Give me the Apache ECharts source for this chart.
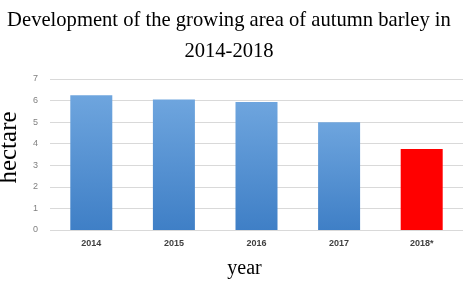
<!DOCTYPE html>
<html><head><meta charset="utf-8">
<script src="https://cdn.jsdelivr.net/npm/echarts@6/dist/echarts.min.js"></script>
<style>html,body{margin:0;padding:0;background:#fff}#c{width:471px;height:284px}</style>
</head><body><div id="c"></div>
<script>
const categories = ['2014', '2015', '2016', '2017', '2018*'];
const values = [6.25, 6.05, 5.93, 5.0, 3.75];
const yTicks = [0, 1, 2, 3, 4, 5, 6, 7];

const blueGrad = new echarts.graphic.LinearGradient(0, 0, 0, 1, [
  {offset: 0, color: '#6ea5de'},
  {offset: 1, color: '#3f7fc6'}
]);
const chart = echarts.init(document.getElementById('c'), null, {renderer: 'canvas'});
chart.setOption({
  animation: false,
  title: {
    text: 'Development of the growing area of autumn barley in\n2014-2018',
    left: 224, textAlign: 'center', top: 0,
    textStyle: {fontFamily: 'Liberation Serif', fontSize: 20.6, fontWeight: 'normal', color: '#000', lineHeight: 31}
  },
  grid: {left: 50, right: 8, top: 79, bottom: 54, containLabel: false, outerBoundsMode: 'none'},
  xAxis: {
    type: 'category', data: categories,
    name: 'year', nameLocation: 'middle', nameGap: 29,
    nameTextStyle: {fontFamily: 'Liberation Serif', fontSize: 20, color: '#000', padding: [0, 24, 0, 0]},
    axisLine: {show: false}, axisTick: {show: false},
    axisLabel: {fontFamily: 'Liberation Sans', fontSize: 9, color: '#404040', fontWeight: 'bold', margin: 9}
  },
  yAxis: {
    type: 'value', min: yTicks[0], max: yTicks[yTicks.length - 1], interval: 1,
    name: 'hectare', nameLocation: 'middle', nameRotate: 90, nameGap: 19,
    nameTextStyle: {fontFamily: 'Liberation Serif', fontSize: 25, color: '#000', padding: [0, 0, 0, 14]},
    axisLine: {show: false}, axisTick: {show: false},
    axisLabel: {fontFamily: 'Liberation Sans', fontSize: 9, color: '#808080', margin: 12},
    splitLine: {lineStyle: {color: '#d9d9d9', width: 1}}
  },
  series: [{
    type: 'bar', barWidth: 42,
    data: values.map((v, i) => ({value: v, itemStyle: {color: i === values.length - 1 ? '#ff0000' : blueGrad}}))
  }]
});
</script></body></html>
